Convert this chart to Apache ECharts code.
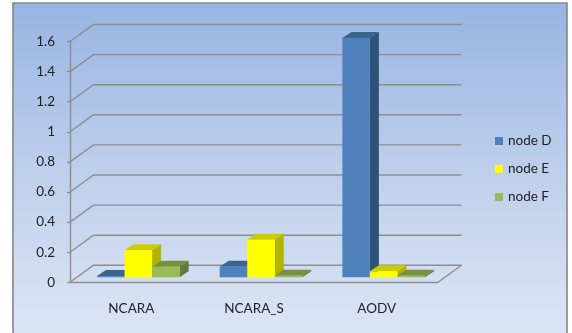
<!DOCTYPE html>
<html><head><meta charset="utf-8">
<style>html,body{margin:0;padding:0;background:#fff}#c{width:572px;height:333px}</style>
<script src="https://cdn.jsdelivr.net/npm/echarts@6/dist/echarts.min.js"></script>
</head><body><div id="c"></div>
<script>
const categories = ['NCARA', 'NCARA_S', 'AODV'];
const yTicks = [0, 0.2, 0.4, 0.6, 0.8, 1, 1.2, 1.4, 1.6];
const nodeD = [0.008, 0.07, 1.59];
const nodeE = [0.18, 0.25, 0.04];
const nodeF = [0.07, 0.01, 0.01];
const seriesNames = ['node D', 'node E', 'node F'];
const seriesValues = [nodeD, nodeE, nodeF];
const palette = [
  {front:'#4F81BD', top:'#3B6591', side:'#2F5279'},
  {front:'#FFFF00', top:'#CCCC00', side:'#B3B300'},
  {front:'#9BBB59', top:'#76923F', side:'#64793C'}
];
const DX = 23.5, DY = 17;      // wall depth
const LINE = '#8E8E8E';
const FONT = 'Lato, "Open Sans", sans-serif';
const chart = echarts.init(document.getElementById('c'), null, {renderer:'canvas'});

function bar3d(si){
  return function(params, api){
    const i = api.value(0), v = api.value(1);
    const band = api.size([1,0])[0];
    const w = band * 0.2245;
    const c0 = api.coord([i, 0]), c1 = api.coord([i, v]);
    const x = c0[0] + 7 + (si - 1.5) * w;
    const yb = c0[1] - 5, yt = c1[1] - 5;
    const dx = 9, dy = 6, p = palette[si];
    return {type:'group', children:[
      {type:'polygon', shape:{points:[[x,yt],[x+dx,yt-dy],[x+w+dx,yt-dy],[x+w,yt]]}, style:{fill:p.top}},
      {type:'polygon', shape:{points:[[x+w,yt],[x+w+dx,yt-dy],[x+w+dx,yb-dy],[x+w,yb]]}, style:{fill:p.side}},
      {type:'rect', shape:{x:x, y:yt, width:w, height:yb-yt}, style:{fill:p.front}}
    ]};
  };
}
function wall(params, api){
  const v = api.value(0);
  const a = api.coord([0, v]);
  const band = api.size([1,0])[0];
  const left = a[0] - band/2;
  const right = left + band * categories.length;
  const st = {stroke:LINE, lineWidth:1.4, fill:'none'};
  const kids = [
    {type:'polyline', shape:{points:[[left,a[1]],[left+DX,a[1]-DY],[right+DX,a[1]-DY]]}, style:st}
  ];
  if (v === 0) kids.push({type:'line', shape:{x1:right,y1:a[1],x2:right+DX,y2:a[1]-DY}, style:st});
  return {type:'group', children:kids};
}

chart.setOption({
  animation:false,
  backgroundColor:'#fff',
  graphic:[{type:'rect', z:-10, silent:true,
    shape:{x:13, y:3, width:554, height:345},
    style:{stroke:'#868686', lineWidth:1.6,
      fill:new echarts.graphic.LinearGradient(0,0,0,1,[
        {offset:0,color:'#98B4E2'},{offset:0.5,color:'#BFD0EC'},{offset:1,color:'#DFE7F6'}])}}],
  grid:{left:70, right:134, top:41.5, bottom:50.7, containLabel:false},
  legend:{orient:'vertical', left:490, top:129, itemWidth:8, itemHeight:8, itemGap:14,
    icon:'rect', data:seriesNames,
    textStyle:{fontFamily:FONT, fontSize:13.5, color:'#222'}},
  xAxis:{type:'category', data:categories,
    axisLine:{lineStyle:{color:LINE, width:1.4}},
    axisTick:{length:4, lineStyle:{color:LINE, width:1.2}},
    axisLabel:{margin:19, fontFamily:FONT, fontSize:13.5, color:'#222'}},
  yAxis:{type:'value', min:0, max:1.6, interval:0.2,
    axisLine:{show:true, lineStyle:{color:LINE, width:1.4}},
    axisTick:{show:true, length:3, lineStyle:{color:LINE, width:1.2}},
    splitLine:{show:false},
    axisLabel:{margin:15, padding:[2,0,0,0], fontFamily:FONT, fontSize:13.5, color:'#222'}},
  series:[
    {type:'custom', name:'wall', silent:true, z:1, renderItem:wall, data:yTicks.map(v=>[v]), encode:{y:0}},
    ...seriesNames.map((n,si)=>({
      type:'custom', name:n, z:2+si, renderItem:bar3d(si),
      itemStyle:{color:palette[si].front},
      data:seriesValues[si].map((v,i)=>[i,v]), encode:{x:0,y:1}
    }))
  ]
});
</script></body></html>
